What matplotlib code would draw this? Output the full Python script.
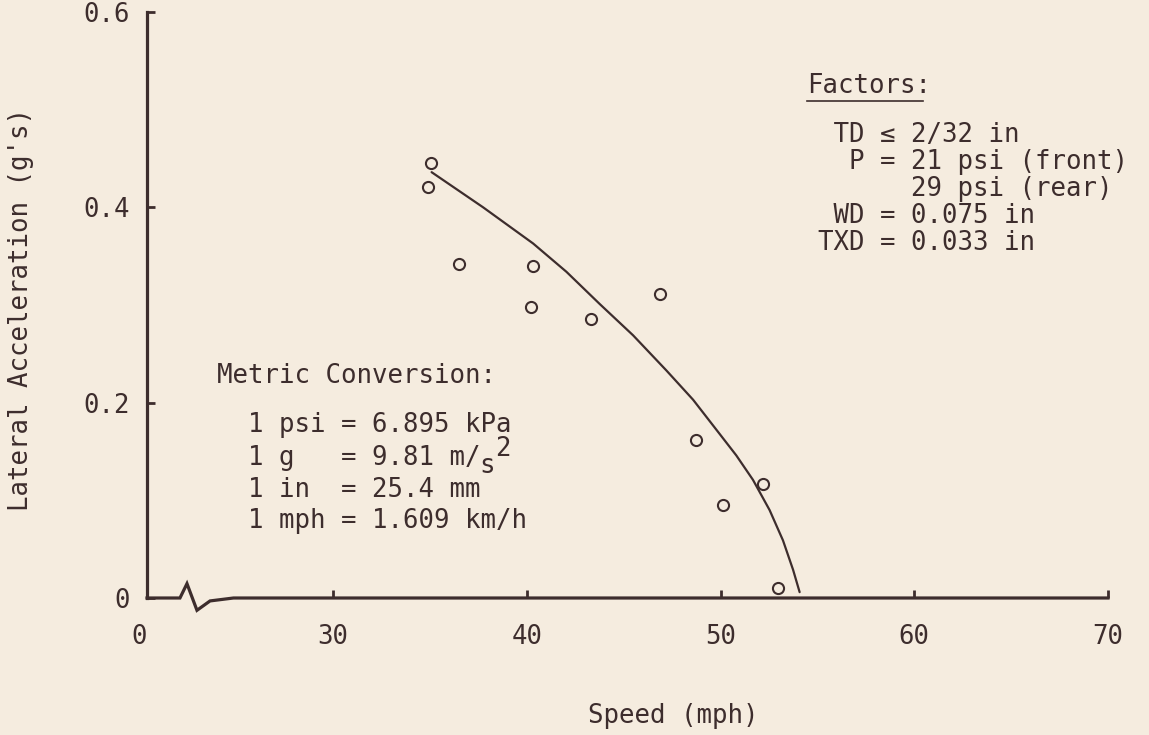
import matplotlib
matplotlib.use("Agg")
import matplotlib.pyplot as plt

# ---- data ----
speed_obs = [35.04, 34.90, 36.47, 40.32, 40.20, 43.33, 46.89, 48.72, 50.12, 52.19, 52.96]
lat_obs = [0.445, 0.421, 0.342, 0.340, 0.298, 0.286, 0.311, 0.162, 0.095, 0.117, 0.010]

curve_speed = [35.08, 37.74, 40.32, 42.04, 43.76, 45.48, 47.20, 48.58, 49.95,
               50.81, 51.67, 52.53, 53.22, 53.74, 54.08]
curve_lat = [0.436, 0.400, 0.363, 0.334, 0.301, 0.269, 0.233, 0.203, 0.168,
             0.146, 0.121, 0.090, 0.059, 0.029, 0.006]

x_ticks = [30, 40, 50, 60, 70]
x_ticklabels = ["30", "40", "50", "60", "70"]
x_zero_pos = 20          # "0" label position on the broken axis
y_ticks = [0, 0.2, 0.4, 0.6]
y_ticklabels = ["0", "0.2", "0.4", "0.6"]

factors_lines = [" TD \u2264 2/32 in", "  P = 21 psi (front)", "      29 psi (rear)",
                 " WD = 0.075 in", "TXD = 0.033 in"]
metric_lines = ["  1 psi = 6.895 kPa", "  1 g   = 9.81 m/", "  1 in  = 25.4 mm",
                "  1 mph = 1.609 km/h"]

# ---- style ----
bg = "#f5ecdf"
ink = "#3d2d2d"
FS = 18.5
plt.rcParams["font.family"] = ["DejaVu Sans Mono", "DejaVu Sans"]
plt.rcParams["text.color"] = ink

W, H = 1149, 735
fig = plt.figure(figsize=(W / 100, H / 100), dpi=100, facecolor=bg)
ax = fig.add_axes([147 / W, 1 - 598 / H, 961 / W, 586 / H])
ax.set_facecolor(bg)
ax.set_xlim(20.387, 70)
ax.set_ylim(0, 0.6)

# curve and observations
ax.plot(curve_speed, curve_lat, color=ink, lw=1.6, solid_capstyle="round")
ax.plot(speed_obs, lat_obs, linestyle="none", marker="o", markersize=8,
        markerfacecolor="none", markeredgecolor=ink, markeredgewidth=1.5)

# spines
for s in ["top", "right", "bottom"]:
    ax.spines[s].set_visible(False)
ax.spines["left"].set_linewidth(2.3)
ax.spines["left"].set_color(ink)
ax.spines["left"].set_capstyle("projecting")

# broken bottom axis
bx = [0, 0.0343, 0.0416, 0.052, 0.0656, 0.09, 1.0]
by = [0, 0, 0.0245, -0.021, -0.005, 0, 0]
ax.plot(bx, by, transform=ax.transAxes, color=ink, lw=2.3, clip_on=False,
        solid_joinstyle="miter")

# ticks
ax.set_xticks(x_ticks)
ax.set_xticklabels(x_ticklabels)
ax.set_yticks(y_ticks)
ax.set_yticklabels(y_ticklabels)
ax.tick_params(axis="x", direction="in", length=6, width=2, color=ink,
               labelsize=FS, labelcolor=ink, pad=19)
ax.tick_params(axis="y", direction="in", length=6, width=2, color=ink,
               labelsize=FS, labelcolor=ink, pad=12)
ax.annotate("0", xy=(x_zero_pos, 0), xycoords=("data", "axes fraction"),
            xytext=(0, -19), textcoords="offset points", ha="center", va="top",
            fontsize=FS, color=ink, annotation_clip=False)

# axis labels
ax.set_xlabel("Speed (mph)", fontsize=FS, color=ink)
ax.xaxis.set_label_coords(0.5473, -0.179)
ax.set_ylabel("Lateral Acceleration (g's)", fontsize=FS, color=ink)
ax.yaxis.set_label_coords(-0.118, 0.4915)

# Factors block
ax.text(0.6868, 0.8618, "Factors:", transform=ax.transAxes, fontsize=FS,
        ha="left", va="baseline")
ax.plot([0.6868, 0.8075], [0.8486, 0.8486], transform=ax.transAxes, color=ink,
        lw=1.2, clip_on=False)
f_base = [0.7782, 0.7321, 0.6860, 0.6392, 0.5939]
for line, yb in zip(factors_lines, f_base):
    ax.text(0.6982, yb, line, transform=ax.transAxes, fontsize=FS,
            ha="left", va="baseline")

# Metric conversion block
ax.text(0.0725, 0.3664, "Metric Conversion:", transform=ax.transAxes,
        fontsize=FS, ha="left", va="baseline")
m_base = [0.2833, 0.2270, 0.1729, 0.1189]
for line, yb in zip(metric_lines, m_base):
    ax.text(0.0725, yb, line, transform=ax.transAxes, fontsize=FS,
            ha="left", va="baseline")
cw = 0.602 * FS
ax.annotate("s", xy=(0.0725, m_base[1]), xycoords="axes fraction",
            xytext=(17 * cw, -6), textcoords="offset points", fontsize=FS,
            ha="left", va="baseline")
ax.annotate("2", xy=(0.0725, m_base[1]), xycoords="axes fraction",
            xytext=(18 * cw, 6.5), textcoords="offset points", fontsize=FS,
            ha="left", va="baseline")

fig.savefig("out.png", dpi=100, facecolor=bg)
